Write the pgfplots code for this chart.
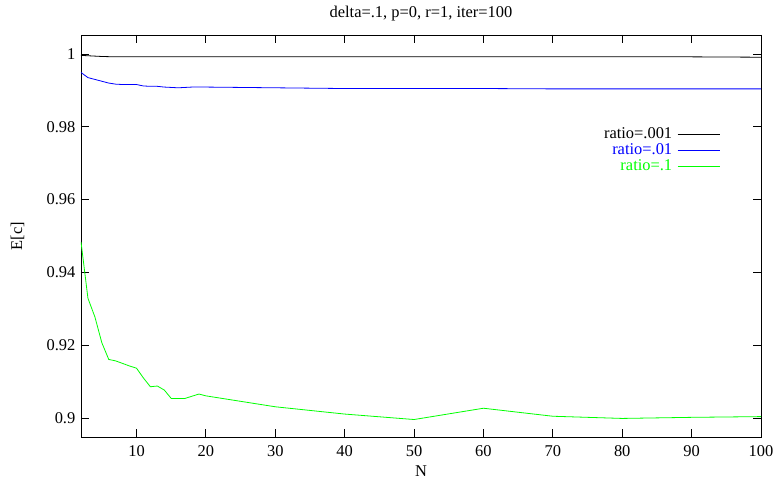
\documentclass[border=0pt]{standalone}
\usepackage{fontspec}
\setmainfont{Liberation Serif}
\usepackage{pgfplots}
\pgfplotsset{compat=1.18}
\begin{document}
\fontsize{16.5}{18}\selectfont
\begin{tikzpicture}
\path[use as bounding box] (-81bp,-46bp) rectangle (697bp,437bp);
\begin{axis}[
  at={(0,0)}, anchor=south west,
  scale only axis, width=680bp, height=402bp,
  xmin=2, xmax=100, ymin=0.8948, ymax=1.0052,
  xtick={10,20,...,100},
  ytick={0.9,0.92,0.94,0.96,0.98,1},
  yticklabels={0.9,0.92,0.94,0.96,0.98,1},
  tick align=inside, major tick length=8bp,
  minor tick num=0,
  /pgf/number format/assume math mode=true,
  tick label style={font=\fontsize{16.5}{18}\selectfont},
  xticklabel style={yshift=-3bp},
  axis line style={line width=0.8bp},
  every tick/.style={black, line width=0.8bp},
  title={delta=.1, p=0, r=1, iter=100},
  title style={font=\fontsize{16.5}{18}\selectfont, yshift=2bp},
  xlabel={N}, ylabel={E[c]},
  label style={font=\fontsize{16.5}{18}\selectfont},
  xlabel style={yshift=2bp},
  ylabel style={yshift=11bp},
  legend style={draw=none, fill=none, at={(0.94,0.775)}, anchor=north east,
    font=\fontsize{16.5}{15}\selectfont, row sep=-1.5bp, inner sep=0pt,
    nodes={inner xsep=5bp}},
  legend cell align=right,
  legend plot pos=right,
  legend image code/.code={\draw[#1] (0bp,0bp) -- (42bp,0bp);},
]
\addplot[black, line width=0.8bp] coordinates {
(2,0.9996) (3,0.9995) (4,0.9994) (5,0.9993) (7,0.9992) (10,0.9992) (20,0.9992) (30,0.9992) (40,0.9992) (50,0.9992) (60,0.9992) (70,0.9992) (80,0.9992) (90,0.9992) (100,0.9991)
};
\addlegendentry{ratio=.001}
\addplot[blue, line width=0.8bp] coordinates {
(2,0.9949) (3,0.9935) (4,0.9930) (5,0.9925) (6,0.9920) (7,0.9917) (8,0.9916) (9,0.9916) (10,0.9916) (11,0.9912) (12,0.9911) (13,0.9911) (14,0.9909) (15,0.9908) (16,0.9907) (17,0.9908) (18,0.9909) (19,0.9909) (20,0.9909) (30,0.9907) (40,0.9905) (50,0.9905) (60,0.9905) (70,0.9904) (80,0.9904) (90,0.9904) (100,0.9904)
};
\addlegendentry{\textcolor{blue}{ratio=.01}}
\addplot[green, line width=0.8bp] coordinates {
(2,0.9484) (3,0.9329) (4,0.9278) (5,0.9207) (6,0.9161) (7,0.9157) (8,0.9150) (9,0.9143) (10,0.9137) (11,0.9110) (12,0.9086) (13,0.9088) (14,0.9077) (15,0.9054) (16,0.9054) (17,0.9054) (18,0.9060) (19,0.9066) (20,0.9061) (30,0.9031) (40,0.9011) (50,0.8996) (60,0.9027) (70,0.9005) (80,0.8999) (90,0.9002) (100,0.9004)
};
\addlegendentry{\textcolor{green}{ratio=.1}}
\end{axis}
\end{tikzpicture}
\end{document}
